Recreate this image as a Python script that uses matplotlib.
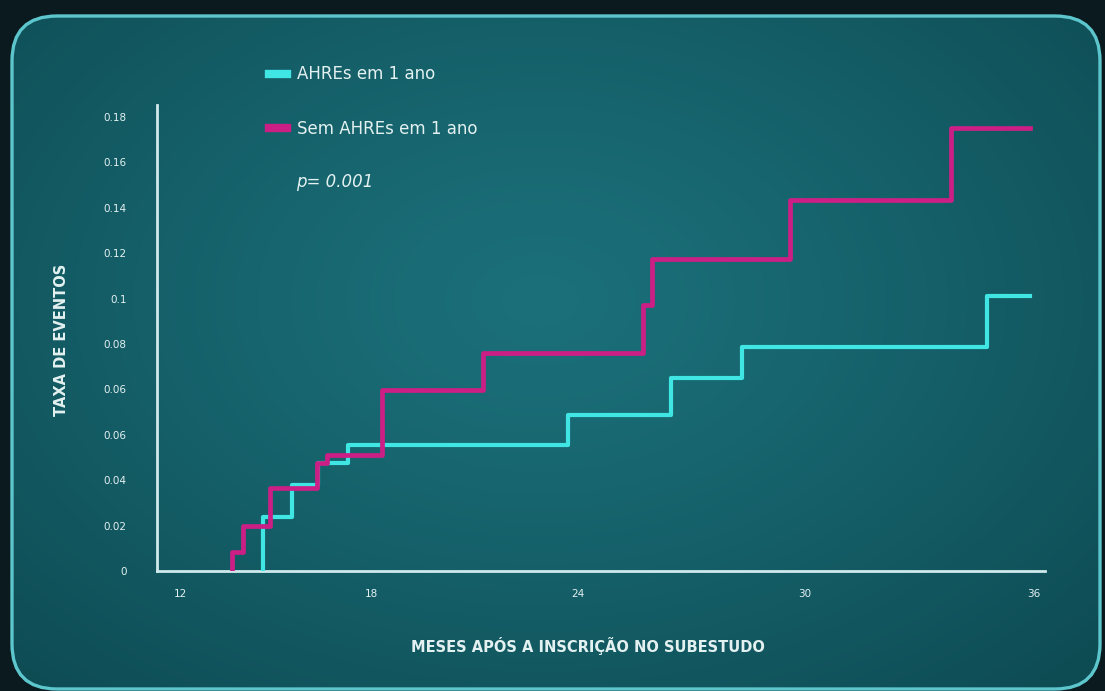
"""Curva de taxa de eventos (AHREs vs sem AHREs) no estilo do slide original."""

import numpy as np
import matplotlib

matplotlib.use("Agg")
import matplotlib.pyplot as plt
from matplotlib.patches import FancyBboxPatch

# --- dados ------------------------------------------------------------------
meses_ticks = [12, 18, 24, 30, 36]
meses_tick_labels = ["12", "18", "24", "30", "36"]
# o slide original repete o rótulo "0.06"; mantido como está
taxa_tick_labels = ["0", "0.02", "0.04", "0.06", "0.06", "0.08",
                    "0.1", "0.12", "0.14", "0.16", "0.18"]

ahre_t = [14.62, 15.51, 16.34, 17.29, 23.72, 26.45, 28.33, 34.78]
ahre_taxa = [0.0215, 0.0341, 0.0427, 0.0500, 0.0619, 0.0764, 0.0887, 0.1090]

sem_t = [13.62, 13.99, 14.83, 16.29, 16.61, 18.31, 21.26, 25.71, 25.95, 29.60, 33.82]
sem_taxa = [0.0077, 0.0178, 0.0328, 0.0427, 0.0460, 0.0718, 0.0866,
            0.1055, 0.1236, 0.1471, 0.1755]

fim_seguimento = 35.9
p_valor = "p= 0.001"

# --- estilo -------------------------------------------------------------------
W, H = 1105, 691
CIANO = "#3fe6e4"
ROSA = "#cc1f86"
TEXTO = "#e4f1f1"
EIXO = "#cfeaec"

plt.rcParams["font.family"] = ["DejaVu Sans"]

# o eixo x do slide não é linear: os rótulos estão em posições irregulares
knots_m = np.array([0, 12, 18, 24, 30, 36, 48], dtype=float)
knots_px = np.array([-202, 180, 371, 578, 805, 1034, 1492], dtype=float)


def fwd(m):
    return np.interp(m, knots_m, knots_px)


def inv(p):
    return np.interp(p, knots_px, knots_m)


def degraus(t, taxa, fim):
    x = np.r_[t[0], t, fim]
    y = np.r_[0.0, taxa, taxa[-1]]
    return x, y


fig = plt.figure(figsize=(W / 100, H / 100), dpi=100)
fig.patch.set_facecolor("#0a1a1f")

# painel de fundo com cantos arredondados e degradê radial
bg = fig.add_axes([0, 0, 1, 1])
bg.set_xlim(0, W)
bg.set_ylim(H, 0)
bg.axis("off")
painel = FancyBboxPatch((12, 16), 1088, 673,
                        boxstyle="round,pad=0,rounding_size=45",
                        facecolor="none", edgecolor="#5cc6cc", lw=2.4, zorder=3)
bg.add_patch(painel)
yy, xx = np.mgrid[0:H, 0:W]
d = np.sqrt(((xx - 540) / 760.0) ** 2 + ((yy - 300) / 520.0) ** 2)
d = np.clip(d, 0, 1) ** 1.2
centro = np.array([27, 112, 122]) / 255.0
borda = np.array([14, 76, 84]) / 255.0
img = centro[None, None, :] * (1 - d[..., None]) + borda[None, None, :] * d[..., None]
im = bg.imshow(img, extent=(0, W, H, 0), zorder=1, aspect="auto")
im.set_clip_path(painel)

# eixo principal
left, right, top, bottom = 157, 1045, 105, 571
ax = fig.add_axes([left / W, (H - bottom) / H, (right - left) / W, (bottom - top) / H])
ax.set_facecolor("none")
ax.set_xscale("function", functions=(fwd, inv))
ax.set_xlim(inv(left), inv(right))
ax.set_ylim(0, 0.18 * (bottom - top) / 454)

xa, ya = degraus(ahre_t, ahre_taxa, fim_seguimento)
xs, ys = degraus(sem_t, sem_taxa, fim_seguimento)
ax.step(xa, ya, where="post", color=CIANO, lw=3.0, label="AHREs em 1 ano", zorder=3)
ax.step(xs, ys, where="post", color=ROSA, lw=3.4, label="Sem AHREs em 1 ano", zorder=4)

for s in ("top", "right"):
    ax.spines[s].set_visible(False)
for s in ("left", "bottom"):
    ax.spines[s].set_color(EIXO)
    ax.spines[s].set_linewidth(2.0)

ax.set_xticks(meses_ticks)
ax.set_xticklabels(meses_tick_labels)
ax.set_yticks(np.linspace(0, 0.18, len(taxa_tick_labels)))
ax.set_yticklabels(taxa_tick_labels)
ax.tick_params(axis="both", length=0, colors=TEXTO, labelsize=7.5)
ax.tick_params(axis="y", pad=22)
ax.tick_params(axis="x", pad=13)
ax.xaxis.set_minor_locator(matplotlib.ticker.NullLocator())

fig.text(62 / W, 1 - 340 / H, "TAXA DE EVENTOS", rotation=90, ha="center",
         va="center", color=TEXTO, fontsize=10.5, fontweight="bold")
fig.text(588 / W, 1 - 646 / H, "MESES APÓS A INSCRIÇÃO NO SUBESTUDO", ha="center",
         va="center", color=TEXTO, fontsize=10.5, fontweight="bold")

leg = ax.legend(loc="upper left", bbox_to_anchor=(261 / W, 1 - 57 / H),
                bbox_transform=fig.transFigure, frameon=False, fontsize=12,
                handlelength=1.05, handletextpad=0.6, labelspacing=2.2,
                borderpad=0, labelcolor=TEXTO)
for h in leg.legend_handles:
    h.set_linewidth(6)

fig.text(296 / W, 1 - 182 / H, p_valor, ha="left", va="center", color=TEXTO,
         fontsize=12, fontstyle="italic")

fig.savefig("out.png", dpi=100, facecolor=fig.get_facecolor())
